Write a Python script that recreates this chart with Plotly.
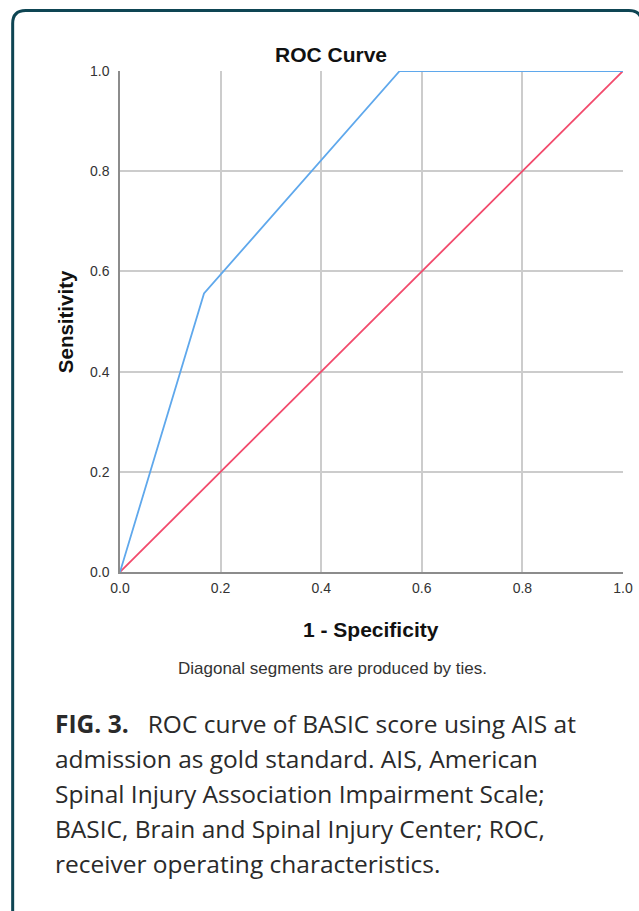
import plotly.graph_objects as go

# Data
roc_fpr = [0.0, 0.167, 0.556, 1.0]
roc_tpr = [0.0, 0.556, 1.0, 1.0]
ref_x = [0.0, 1.0]
ref_y = [0.0, 1.0]
tick_vals = [0.0, 0.2, 0.4, 0.6, 0.8, 1.0]
tick_text = ["0.0", "0.2", "0.4", "0.6", "0.8", "1.0"]
caption_lines = [
    "<b>FIG. 3.</b>   ROC curve of BASIC score using AIS at",
    "admission as gold standard. AIS, American",
    "Spinal Injury Association Impairment Scale;",
    "BASIC, Brain and Spinal Injury Center; ROC,",
    "receiver operating characteristics.",
]

# target picture coordinates (639 wide); the page is laid out slightly wider
TW, H = 639, 911
S = 645 / 639
W = 645
L, R, T, B = 119 * S, 622 * S, 71, 572

def px(x):
    return (x * S - L) / (R - L)

def py(y):
    return (B - y) / (B - T)

fig = go.Figure()
fig.add_trace(go.Scatter(x=ref_x, y=ref_y, mode="lines",
                         line=dict(color="#F24A6C", width=1.8),
                         hoverinfo="skip", showlegend=False))
fig.add_trace(go.Scatter(x=roc_fpr, y=roc_tpr, mode="lines",
                         line=dict(color="#5FA8EC", width=1.8),
                         hoverinfo="skip", showlegend=False))

axis_common = dict(range=[0, 1], tickvals=tick_vals, ticktext=tick_text,
                   showgrid=True, gridcolor="#CCCCCC", gridwidth=1.5,
                   zeroline=False, showline=True, linecolor="#8C8C8C", linewidth=1.5,
                   tickfont=dict(family="Liberation Sans, Arial", size=14, color="#333333"),
                   ticks="", fixedrange=True)

fig.update_layout(
    width=W, height=H,
    margin=dict(l=round(L), r=round(W - R), t=T, b=H - B, pad=0),
    paper_bgcolor="white", plot_bgcolor="white",
    xaxis=dict(**axis_common, ticklabelstandoff=2),
    yaxis=dict(**axis_common, ticklabelstandoff=6),
    showlegend=False,
)
L, R = round(L), W - round(W - R)

ann = []
ann.append(dict(text="<b>ROC Curve</b>", x=px(330), y=py(54), xref="paper", yref="paper",
                showarrow=False, xanchor="center", yanchor="middle",
                font=dict(family="Liberation Sans, Arial", size=21, color="#111111")))
ann.append(dict(text="<b>1 - Specificity</b>", x=px(370), y=py(629), xref="paper", yref="paper",
                showarrow=False, xanchor="center", yanchor="middle",
                font=dict(family="Liberation Sans, Arial", size=21, color="#111111")))
ann.append(dict(text="<b>Sensitivity</b>", x=px(64), y=py(322), xref="paper", yref="paper",
                showarrow=False, xanchor="center", yanchor="middle", textangle=-90,
                font=dict(family="Liberation Sans, Arial", size=20.5, color="#111111")))
ann.append(dict(text="Diagonal segments are produced by ties.", x=px(331), y=py(668),
                xref="paper", yref="paper", showarrow=False, xanchor="center", yanchor="middle",
                font=dict(family="Liberation Sans, Arial", size=17, color="#333333")))
for i, line in enumerate(caption_lines):
    ann.append(dict(text=line, x=px(52), y=py(723 + 35 * i), xref="paper", yref="paper",
                    showarrow=False, xanchor="left", yanchor="middle",
                    font=dict(family="Open Sans", size=24.5, color="#2A2A2A")))
fig.update_layout(annotations=ann)

# Rounded border frame (right edge lies just outside the picture)
x0, x1, y0, y1, r = 11.5, 641, 10.5, 912, 13
path = (f"M {px(x0)},{py(y1)} L {px(x0)},{py(y0 + r)} "
        f"Q {px(x0)},{py(y0)} {px(x0 + r)},{py(y0)} "
        f"L {px(x1 - r)},{py(y0)} "
        f"Q {px(x1)},{py(y0)} {px(x1)},{py(y0 + r)} "
        f"L {px(x1)},{py(y1)}")
fig.add_shape(type="path", path=path, xref="paper", yref="paper",
              line=dict(color="#0E4553", width=3), layer="above")

fig.write_html("out.html", config={"displayModeBar": False},
               post_script="document.body.style.margin='0';")
